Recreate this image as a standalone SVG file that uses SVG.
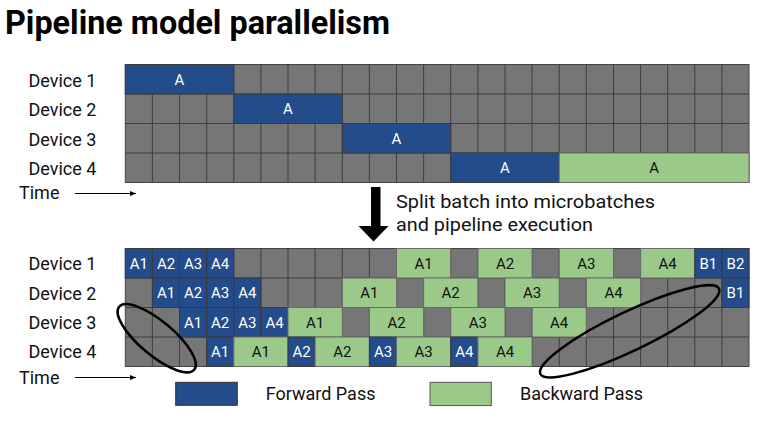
<svg xmlns="http://www.w3.org/2000/svg" width="765" height="422" viewBox="0 0 765 422">
<style>
.bg{fill:#767676;stroke:#444;stroke-width:1}
.ln{stroke:#3f3f3f;stroke-width:1}
.b{fill:#244b8a;stroke:#3a3a3a;stroke-width:1}
.gr{fill:#9ac98a;stroke:#6a6a6a;stroke-width:1}
.lbl{font-family:Roboto,"Liberation Sans",sans-serif;font-size:18px;fill:#111}
.tw{font-family:Roboto,"Liberation Sans",sans-serif;font-size:15px;fill:#fff;text-anchor:middle}
.tk{font-family:Roboto,"Liberation Sans",sans-serif;font-size:15px;fill:#111;text-anchor:middle}
.ell{fill:none;stroke:#000;stroke-width:2.5}
</style>
<defs>
<marker id="ah" viewBox="0 0 10 10" refX="10" refY="5" markerWidth="6" markerHeight="6" orient="auto" markerUnits="userSpaceOnUse">
<path d="M0,1 L10,5 L0,9 z" fill="#000"/>
</marker>
<g id="cols">
<line class="ln" x1="152.4" y1="0" x2="152.4" y2="118"/>
<line class="ln" x1="179.5" y1="0" x2="179.5" y2="118"/>
<line class="ln" x1="206.7" y1="0" x2="206.7" y2="118"/>
<line class="ln" x1="233.8" y1="0" x2="233.8" y2="118"/>
<line class="ln" x1="260.9" y1="0" x2="260.9" y2="118"/>
<line class="ln" x1="288.0" y1="0" x2="288.0" y2="118"/>
<line class="ln" x1="315.1" y1="0" x2="315.1" y2="118"/>
<line class="ln" x1="342.3" y1="0" x2="342.3" y2="118"/>
<line class="ln" x1="369.4" y1="0" x2="369.4" y2="118"/>
<line class="ln" x1="396.5" y1="0" x2="396.5" y2="118"/>
<line class="ln" x1="423.6" y1="0" x2="423.6" y2="118"/>
<line class="ln" x1="450.7" y1="0" x2="450.7" y2="118"/>
<line class="ln" x1="477.9" y1="0" x2="477.9" y2="118"/>
<line class="ln" x1="505.0" y1="0" x2="505.0" y2="118"/>
<line class="ln" x1="532.1" y1="0" x2="532.1" y2="118"/>
<line class="ln" x1="559.2" y1="0" x2="559.2" y2="118"/>
<line class="ln" x1="586.3" y1="0" x2="586.3" y2="118"/>
<line class="ln" x1="613.5" y1="0" x2="613.5" y2="118"/>
<line class="ln" x1="640.6" y1="0" x2="640.6" y2="118"/>
<line class="ln" x1="667.7" y1="0" x2="667.7" y2="118"/>
<line class="ln" x1="694.8" y1="0" x2="694.8" y2="118"/>
<line class="ln" x1="721.9" y1="0" x2="721.9" y2="118"/>
<line class="ln" x1="125.3" y1="29.5" x2="749" y2="29.5"/>
<line class="ln" x1="125.3" y1="59" x2="749" y2="59"/>
<line class="ln" x1="125.3" y1="88.5" x2="749" y2="88.5"/>
</g>
</defs>

<text x="5" y="34" font-family="Roboto,'Liberation Sans',sans-serif" font-size="34" font-weight="bold" fill="#000" textLength="385" lengthAdjust="spacingAndGlyphs">Pipeline model parallelism</text>

<!-- Top grid -->
<g id="top-grid">
<rect class="bg" x="125.3" y="64.5" width="623.7" height="118"/>
<use href="#cols" y="64.5"/>
<rect class="b" x="125.3" y="64.5" width="108.5" height="29.5"/>
<text class="tw" x="179.5" y="84.5">A</text>
<rect class="b" x="233.8" y="94" width="108.5" height="29.5"/>
<text class="tw" x="288" y="114">A</text>
<rect class="b" x="342.3" y="123.5" width="108.4" height="29.5"/>
<text class="tw" x="396.5" y="143.5">A</text>
<rect class="b" x="450.7" y="153" width="108.5" height="29.5"/>
<text class="tw" x="505" y="173">A</text>
<rect class="gr" x="559.2" y="153" width="189.8" height="29.5"/>
<text class="tk" x="654.1" y="173">A</text>
</g>

<g id="top-labels">
<text class="lbl" x="28.5" y="87">Device 1</text>
<text class="lbl" x="28.5" y="116">Device 2</text>
<text class="lbl" x="28.5" y="145.5">Device 3</text>
<text class="lbl" x="28.5" y="175">Device 4</text>
<text class="lbl" x="19" y="199">Time</text>
</g>

<g id="connectors">
<line x1="75" y1="193.5" x2="136" y2="193.5" stroke="#000" stroke-width="1" marker-end="url(#ah)"/>
<line x1="75" y1="377.5" x2="136" y2="377.5" stroke="#000" stroke-width="1" marker-end="url(#ah)"/>
<polygon points="371,187 380.5,187 380.5,226 388.5,226 373.5,241.5 358.5,226 371,226" fill="#000"/>
</g>

<g id="split-text">
<text class="lbl" x="396" y="208" font-size="19" textLength="259" lengthAdjust="spacingAndGlyphs">Split batch into microbatches</text>
<text class="lbl" x="396" y="230.5" font-size="19" textLength="197" lengthAdjust="spacingAndGlyphs">and pipeline execution</text>
</g>

<!-- Bottom grid -->
<g id="bottom-grid">
<rect class="bg" x="125.3" y="248.5" width="623.7" height="118"/>
<use href="#cols" y="248.5"/>
<!-- Device 1 -->
<rect class="b" x="125.3" y="248.5" width="27.1" height="29.5"/><text class="tw" x="138.9" y="268.5">A1</text>
<rect class="b" x="152.4" y="248.5" width="27.1" height="29.5"/><text class="tw" x="166" y="268.5">A2</text>
<rect class="b" x="179.5" y="248.5" width="27.2" height="29.5"/><text class="tw" x="193.1" y="268.5">A3</text>
<rect class="b" x="206.7" y="248.5" width="27.1" height="29.5"/><text class="tw" x="220.2" y="268.5">A4</text>
<rect class="gr" x="396.5" y="248.5" width="54.2" height="29.5"/><text class="tk" x="423.6" y="268.5">A1</text>
<rect class="gr" x="477.9" y="248.5" width="54.2" height="29.5"/><text class="tk" x="505" y="268.5">A2</text>
<rect class="gr" x="559.2" y="248.5" width="54.3" height="29.5"/><text class="tk" x="586.3" y="268.5">A3</text>
<rect class="gr" x="640.6" y="248.5" width="54.2" height="29.5"/><text class="tk" x="667.7" y="268.5">A4</text>
<rect class="b" x="694.8" y="248.5" width="27.1" height="29.5"/><text class="tw" x="708.4" y="268.5">B1</text>
<rect class="b" x="721.9" y="248.5" width="27.1" height="29.5"/><text class="tw" x="735.5" y="268.5">B2</text>
<!-- Device 2 -->
<rect class="b" x="152.4" y="278" width="27.1" height="29.5"/><text class="tw" x="166" y="298">A1</text>
<rect class="b" x="179.5" y="278" width="27.2" height="29.5"/><text class="tw" x="193.1" y="298">A2</text>
<rect class="b" x="206.7" y="278" width="27.1" height="29.5"/><text class="tw" x="220.2" y="298">A3</text>
<rect class="b" x="233.8" y="278" width="27.1" height="29.5"/><text class="tw" x="247.3" y="298">A4</text>
<rect class="gr" x="342.3" y="278" width="54.2" height="29.5"/><text class="tk" x="369.4" y="298">A1</text>
<rect class="gr" x="423.6" y="278" width="54.3" height="29.5"/><text class="tk" x="450.7" y="298">A2</text>
<rect class="gr" x="505" y="278" width="54.2" height="29.5"/><text class="tk" x="532.1" y="298">A3</text>
<rect class="gr" x="586.3" y="278" width="54.3" height="29.5"/><text class="tk" x="613.5" y="298">A4</text>
<rect class="b" x="721.9" y="278" width="27.1" height="29.5"/><text class="tw" x="735.5" y="298">B1</text>
<!-- Device 3 -->
<rect class="b" x="179.5" y="307.5" width="27.2" height="29.5"/><text class="tw" x="193.1" y="327.5">A1</text>
<rect class="b" x="206.7" y="307.5" width="27.1" height="29.5"/><text class="tw" x="220.2" y="327.5">A2</text>
<rect class="b" x="233.8" y="307.5" width="27.1" height="29.5"/><text class="tw" x="247.3" y="327.5">A3</text>
<rect class="b" x="260.9" y="307.5" width="27.1" height="29.5"/><text class="tw" x="274.5" y="327.5">A4</text>
<rect class="gr" x="288" y="307.5" width="54.3" height="29.5"/><text class="tk" x="315.1" y="327.5">A1</text>
<rect class="gr" x="369.4" y="307.5" width="54.2" height="29.5"/><text class="tk" x="396.5" y="327.5">A2</text>
<rect class="gr" x="450.7" y="307.5" width="54.3" height="29.5"/><text class="tk" x="477.9" y="327.5">A3</text>
<rect class="gr" x="532.1" y="307.5" width="54.2" height="29.5"/><text class="tk" x="559.2" y="327.5">A4</text>
<!-- Device 4 -->
<rect class="b" x="206.7" y="337" width="27.1" height="29.5"/><text class="tw" x="220.2" y="357">A1</text>
<rect class="gr" x="233.8" y="337" width="54.2" height="29.5"/><text class="tk" x="260.9" y="357">A1</text>
<rect class="b" x="288" y="337" width="27.1" height="29.5"/><text class="tw" x="301.6" y="357">A2</text>
<rect class="gr" x="315.1" y="337" width="54.3" height="29.5"/><text class="tk" x="342.3" y="357">A2</text>
<rect class="b" x="369.4" y="337" width="27.1" height="29.5"/><text class="tw" x="383" y="357">A3</text>
<rect class="gr" x="396.5" y="337" width="54.2" height="29.5"/><text class="tk" x="423.6" y="357">A3</text>
<rect class="b" x="450.7" y="337" width="27.2" height="29.5"/><text class="tw" x="464.3" y="357">A4</text>
<rect class="gr" x="477.9" y="337" width="54.2" height="29.5"/><text class="tk" x="505" y="357">A4</text>
</g>

<g id="bottom-labels">
<text class="lbl" x="28.5" y="270">Device 1</text>
<text class="lbl" x="28.5" y="299.5">Device 2</text>
<text class="lbl" x="28.5" y="329">Device 3</text>
<text class="lbl" x="28.5" y="358">Device 4</text>
<text class="lbl" x="19" y="384">Time</text>
</g>

<g id="ellipses">
<ellipse class="ell" cx="156.7" cy="338.3" rx="49" ry="17" transform="rotate(40 156.7 338.3)"/>
<ellipse class="ell" cx="629.7" cy="331.3" rx="99" ry="19.5" transform="rotate(-25.5 629.7 331.3)"/>
</g>

<g id="legend-forward">
<rect x="175.7" y="382.3" width="61.6" height="23" fill="#244b8a" stroke="#333" stroke-width="1"/>
<text class="lbl" x="265.7" y="400">Forward Pass</text>
</g>
<g id="legend-backward">
<rect x="430" y="382.3" width="61.3" height="23.3" fill="#9ac98a" stroke="#555" stroke-width="1"/>
<text class="lbl" x="520" y="400">Backward Pass</text>
</g>
</svg>
